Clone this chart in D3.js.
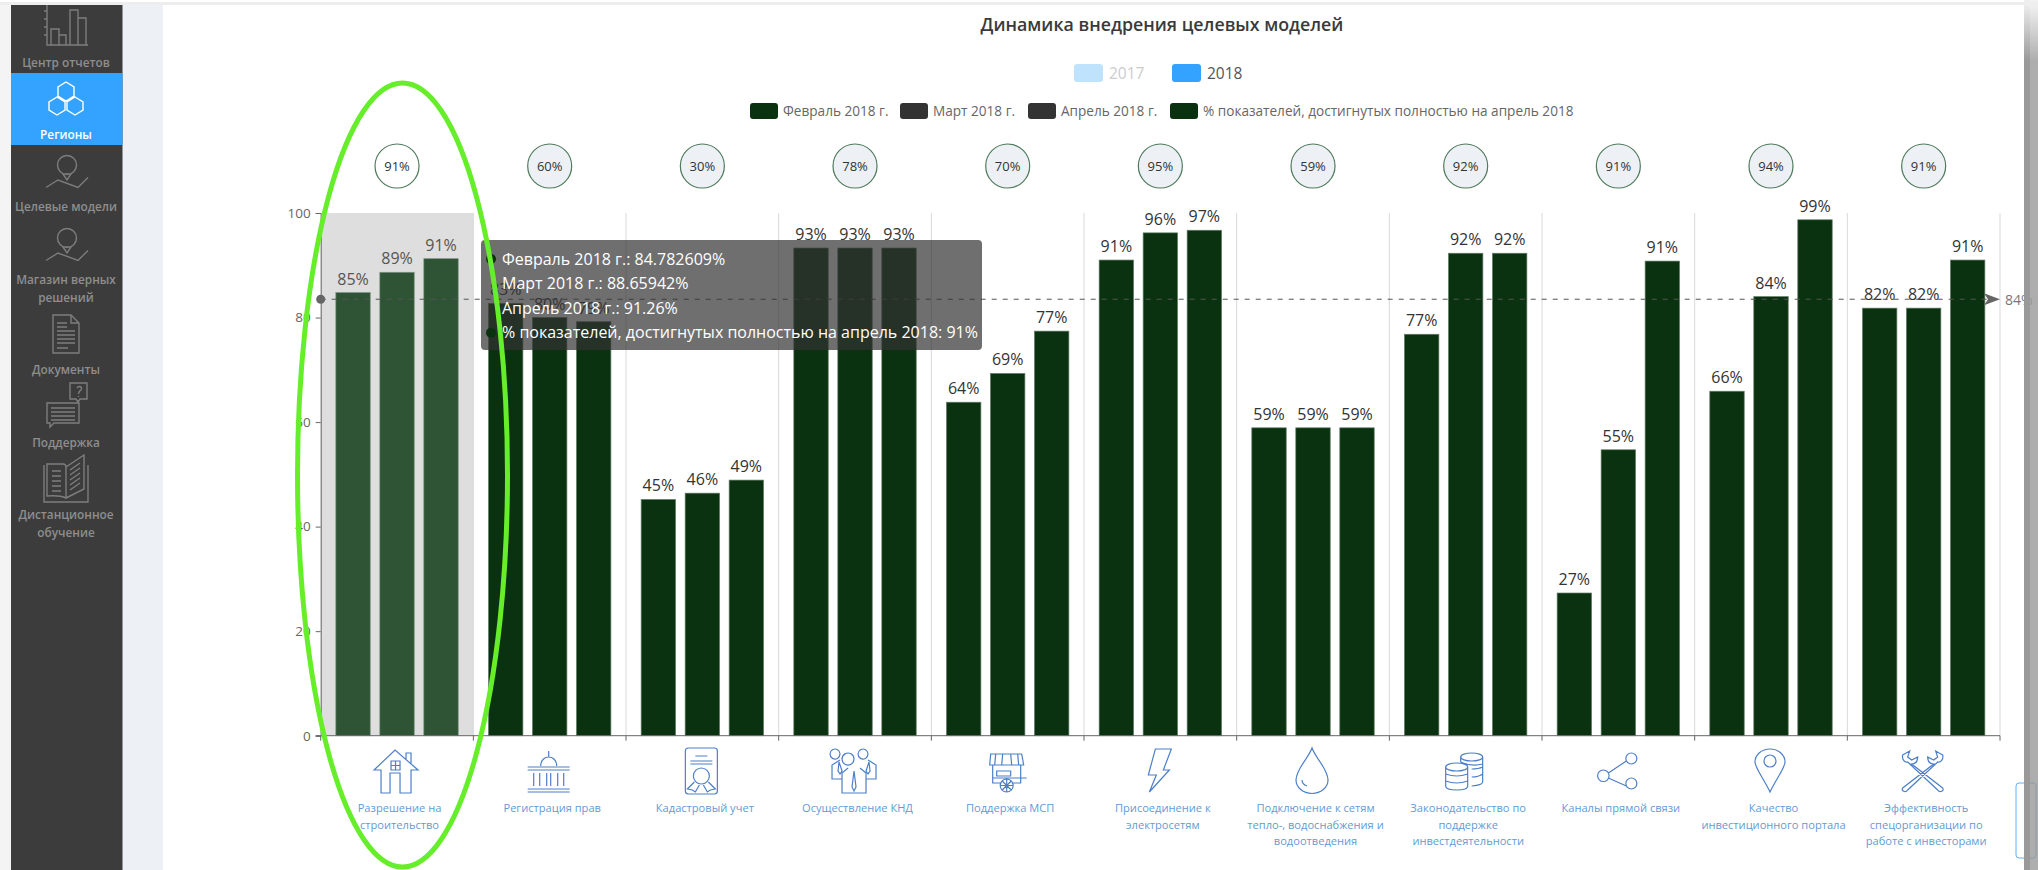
<!DOCTYPE html>
<html>
<head>
<meta charset="utf-8">
<script src="https://cdnjs.cloudflare.com/ajax/libs/d3/7.8.5/d3.min.js"></script>
<style>
  body { margin: 0; background: #fff; overflow: hidden; }
  svg { display: block; font-family: "Open Sans", sans-serif; }
</style>
</head>
<body>
<div id="chart"></div>
<script>
/* Динамика внедрения целевых моделей */

const categories = [
  ["Разрешение на", "строительство"],
  ["Регистрация прав"],
  ["Кадастровый учет"],
  ["Осуществление КНД"],
  ["Поддержка МСП"],
  ["Присоединение к", "электросетям"],
  ["Подключение к сетям", "тепло-, водоснабжения и", "водоотведения"],
  ["Законодательство по", "поддержке", "инвестдеятельности"],
  ["Каналы прямой связи"],
  ["Качество", "инвестиционного портала"],
  ["Эффективность", "спецорганизации по", "работе с инвесторами"]
];
const months = ["Февраль 2018 г.", "Март 2018 г.", "Апрель 2018 г."];
const feb = [84.78, 82.7, 45.2, 93.3, 63.8, 91, 58.9, 76.8, 27.3, 65.9, 81.8];
const mar = [88.66, 80, 46.4, 93.3, 69.3, 96.2, 58.9, 92.3, 54.7, 84, 81.8];
const apr = [91.26, 79.2, 48.9, 93.3, 77.4, 96.7, 58.9, 92.3, 90.8, 98.7, 91];
const achieved = [91, 60, 30, 78, 70, 95, 59, 92, 91, 94, 91];
const yTicks = [0, 20, 40, 60, 80, 100];
const markValue = 83.5;
const markLabel = "84%";
const yearLegend = ["2017", "2018"];
const seriesLegend = ["Февраль 2018 г.", "Март 2018 г.", "Апрель 2018 г.", "% показателей, достигнутых полностью на апрель 2018"];
const tooltipLines = ["Февраль 2018 г.: 84.782609%", "Март 2018 г.: 88.65942%", "Апрель 2018 г.: 91.26%", "% показателей, достигнутых полностью на апрель 2018: 91%"];
const navItems = [
  { lines: ["Центр отчетов"], y: [63] },
  { lines: ["Регионы"], y: [135], active: true },
  { lines: ["Целевые модели"], y: [207] },
  { lines: ["Магазин верных", "решений"], y: [280, 298] },
  { lines: ["Документы"], y: [370] },
  { lines: ["Поддержка"], y: [443] },
  { lines: ["Дистанционное", "обучение"], y: [515, 533] }
];

const width = 2038,
  height = 870,
  margin = ({ top: 213, right: 38, bottom: 134.3, left: 320.7 }),
  barColor = "#0b3210",
  barHighlight = "#2f5435",
  iconBlue = "#4c7fc9",
  navGrey = "#8e8e8e";

const svg = d3.select("#chart")
  .append("svg")
  .attr("width", width)
  .attr("height", height)
  .attr("viewBox", [0, 0, width, height]);

const fade = svg.append("defs").append("linearGradient")
  .attr("id", "barfade")
  .attr("x1", 0).attr("y1", 0).attr("x2", 0).attr("y2", 1);
fade.append("stop").attr("offset", "0.5%").attr("stop-color", "#eeeeee");
fade.append("stop").attr("offset", "7%").attr("stop-color", "#999999");

/* page shell */
svg.append("rect").attr("width", width).attr("height", height).attr("fill", "#fff");
svg.append("rect").attr("y", 2).attr("width", width).attr("height", 3).attr("fill", "#ededed");
svg.append("rect").attr("y", 5).attr("width", 11).attr("height", height).attr("fill", "#f4f4f4");
svg.append("rect").attr("x", 122).attr("y", 5).attr("width", 41).attr("height", height).attr("fill", "#edf1f5");
svg.append("rect").attr("x", 11).attr("y", 5).attr("width", 111.5).attr("height", height).attr("fill", "#3c3c3c");
svg.append("rect").attr("x", 11).attr("y", 73).attr("width", 111.5).attr("height", 72).attr("fill", "#33a3ff");

svg.append("g")
  .attr("text-anchor", "middle")
  .attr("font-size", 11.8)
  .attr("font-weight", 600)
  .selectAll("g")
  .data(navItems)
  .join("g")
  .attr("fill", d => d.active ? "#fff" : navGrey)
  .selectAll("text")
  .data(d => d.lines.map((l, i) => ({ l, y: d.y[i] })))
  .join("text")
  .attr("x", 66)
  .attr("y", d => d.y + 4)
  .text(d => d.l);

/* sidebar icons */
const pinIcon = "M-9.5 -7 A9.5 9.5 0 1 1 9.5 -7 A9.5 9.5 0 1 1 -9.5 -7 M-4 2 L0 8 L4 2 Z M-21 15.5 L-9 8 L11 15.5 L21 5.5";
const navIcons = [
  { x: 67, y: 25, d: "M-20 -20 V20 H21 M-23 -14 H-20 M-23 -6 H-20 M-23 2 H-20 M-23 10 H-20 M-16 20 V4 H-8 V20 M-8 20 V10 H-1 V20 M3 20 V-15 H11 V20 M11 20 V-7 H19 V20" },
  { x: 66, y: 99, d: "M0 -17 L8 -12 V-3 L0 2 L-8 -3 V-12 Z M-9 -2 L-1 3 V11 L-9 16 L-17 11 V3 Z M9 -2 L17 3 V11 L9 16 L1 11 V3 Z", stroke: "#fff" },
  { x: 67, y: 172, d: pinIcon },
  { x: 67, y: 245, d: pinIcon },
  { x: 66, y: 334, d: "M-13 -19 H5 L13 -11 V19 H-13 Z M5 -19 V-11 H13 M-9 -11 H1 M-9 -7 H1 M-9 -3 H9 M-9 1 H9 M-9 5 H9 M-9 9 H9 M-9 14 H2" },
  { x: 66, y: 405, d: "M4 -22 H21 V-6 H14 L12 -3 L10 -6 H4 Z M11 -17 C13 -20 17 -18 15 -15 C14 -14 12.5 -14 12.5 -11 M12.5 -9 V-8 M-19 -2 H13 V18 H-12 L-16 22 V18 H-19 Z M-15 3 H9 M-15 7 H9 M-15 11 H9 M-15 15 H9" },
  { x: 66, y: 479, d: "M-22 -14 V23 H22 V-14 M-19 -15 H-3 Q0 -15 0 -12 V19 Q-6 16 -19 17 Z M0 -12 L18 -24 V10 L0 19 M-14 -8 H-5 M-14 -3 H-5 M-14 2 H-5 M-14 7 H-5 M-14 12 H-5 M4 -9 L14 -16 M4 -4 L14 -11 M4 1 L14 -6 M4 6 L14 -1 M4 11 L14 4" }
];
svg.append("g")
  .selectAll("path")
  .data(navIcons)
  .join("path")
  .attr("transform", d => `translate(${d.x},${d.y})`)
  .attr("d", d => d.d)
  .attr("fill", "none")
  .attr("stroke", d => d.stroke || "#7d7d7d")
  .attr("stroke-width", 1.4);

/* scales */
const x0 = d3.scaleBand()
  .domain(d3.range(categories.length))
  .range([margin.left, width - margin.right]);

const x1 = d3.scaleBand()
  .domain(months)
  .range([0, x0.bandwidth()])
  .paddingInner(0.218)
  .paddingOuter(0.344);

const y = d3.scaleLinear()
  .domain([0, 100])
  .range([height - margin.bottom, margin.top]);

/* highlighted band and separators */
svg.append("rect")
  .attr("x", x0(0))
  .attr("y", y(100))
  .attr("width", x0.bandwidth())
  .attr("height", y(0) - y(100))
  .attr("fill", "#dedede");

svg.append("g")
  .selectAll("line")
  .data(d3.range(1, categories.length + 1))
  .join("line")
  .attr("x1", d => margin.left + d * x0.step())
  .attr("x2", d => margin.left + d * x0.step())
  .attr("y1", y(100))
  .attr("y2", y(0))
  .attr("stroke", "#d9d9d9");

/* bars */
const rows = categories.map((c, i) => [feb[i], mar[i], apr[i]]);

const groups = svg.append("g")
  .selectAll("g")
  .data(rows)
  .join("g")
  .attr("transform", (d, i) => `translate(${x0(i)},0)`);

groups.each(function (row, i) {
  const g = d3.select(this);
  g.selectAll("rect")
    .data(row)
    .join("rect")
    .attr("x", (d, j) => x1(months[j]))
    .attr("y", d => y(d))
    .attr("width", x1.bandwidth())
    .attr("height", d => y(0) - y(d))
    .attr("fill", i === 0 ? barHighlight : barColor)
    .attr("stroke", i === 0 ? "#7d9382" : "#5f7d64")
    .attr("stroke-width", 0.7);
});

/* mark line */
const mark = svg.append("g");
mark.append("line")
  .attr("x1", margin.left)
  .attr("x2", width - margin.right - 10)
  .attr("y1", y(markValue))
  .attr("y2", y(markValue))
  .attr("stroke", "#555")
  .attr("stroke-width", 1)
  .attr("stroke-dasharray", "5,6");
mark.append("circle")
  .attr("cx", margin.left)
  .attr("cy", y(markValue))
  .attr("r", 4.5)
  .attr("fill", "#666");
mark.append("path")
  .attr("d", d3.line()([[width - margin.right - 16, y(markValue) - 6], [width - margin.right, y(markValue)], [width - margin.right - 16, y(markValue) + 6], [width - margin.right - 12, y(markValue)]]))
  .attr("fill", "#666");
mark.append("text")
  .attr("x", width - margin.right + 5)
  .attr("y", y(markValue) + 6)
  .attr("font-size", 14)
  .attr("fill", "#777")
  .text(markLabel);

/* value labels */
groups.each(function (row, i) {
  d3.select(this).selectAll("text")
    .data(row)
    .join("text")
    .attr("x", (d, j) => x1(months[j]) + x1.bandwidth() / 2)
    .attr("y", d => y(d) - 8)
    .attr("text-anchor", "middle")
    .attr("font-size", 16)
    .attr("fill", i === 0 ? "#555" : "#333")
    .text(d => Math.round(d) + "%");
});

/* axes */
const yAxis = svg.append("g")
  .attr("transform", `translate(${margin.left},0)`)
  .call(d3.axisLeft(y).tickValues(yTicks).tickSize(5).tickPadding(5));
yAxis.selectAll("path, line").attr("stroke", "#666");
yAxis.selectAll("text").attr("font-size", 13.5).attr("fill", "#666").attr("font-family", "Open Sans");

const tickX = d3.range(0, categories.length + 1).map(d => margin.left + d * x0.step());
const xAxis = svg.append("g");
xAxis.append("line")
  .attr("x1", margin.left - 5)
  .attr("x2", width - margin.right)
  .attr("y1", y(0))
  .attr("y2", y(0))
  .attr("stroke", "#666");
xAxis.selectAll("line.tick")
  .data(tickX)
  .join("line")
  .attr("class", "tick")
  .attr("x1", d => d)
  .attr("x2", d => d)
  .attr("y1", y(0))
  .attr("y2", y(0) + 5)
  .attr("stroke", "#666");

/* achieved circles */
const badges = svg.append("g")
  .selectAll("g")
  .data(achieved)
  .join("g")
  .attr("transform", (d, i) => `translate(${x0(i) + x0.bandwidth() / 2},166)`);
badges.append("circle")
  .attr("r", 22)
  .attr("fill", (d, i) => i === 0 ? "#fff" : "#edf1f5")
  .attr("stroke", "#4f7a5c")
  .attr("stroke-width", 1.2);
badges.append("text")
  .attr("y", 4.5)
  .attr("text-anchor", "middle")
  .attr("font-size", 13)
  .attr("fill", "#333")
  .text(d => d + "%");

/* category icons */
const catIcons = [
  "M-22 -1 L-1 -21 L22 -1 H15 V22 H4 V2 H-6 V22 H-15 V-1 Z M10 -12 V-18 H15 V-7 M-5 -10 H4 V-1 H-5 Z M-0.5 -10 V-1 M-5 -5.5 H4",
  "M-21 -4 H21 M-21 -1 H21 M-21 21 H21 M-21 18 H21 M0 -20 V-14 M-8 -5 C-8 -17 8 -17 8 -5 M-15 2 V15 M-9 2 V15 M-2 2 V15 M2 2 V15 M9 2 V15 M15 2 V15",
  "M-13 -23 H13 Q16 -23 16 -20 V20 Q16 23 13 23 H-13 Q-16 23 -16 20 V-20 Q-16 -23 -13 -23 Z M-6 -15 H6 M-11 -10 H11 M-11 -7 H11 M-8 5 A8 8 0 1 0 8 5 A8 8 0 1 0 -8 5 M-7 11 L-14 18 L-9 19 L-6 21 L-2 14 M7 11 L14 18 L9 19 L6 21 L2 14",
  "M-14 -17 A5 5 0 1 0 -14 -16.9 M14 -17 A5 5 0 1 0 14 -16.9 M0 -12 A6 6 0 1 0 0 -11.9 M-14 -11 L-22 -6 V8 H-12 V22 H12 V8 H22 V-6 L14 -11 M-6 -3 L-12 2 V8 M6 -3 L12 2 V8 M0 0 L-2 16 L0 20 L2 16 Z M-15 -9 L-16 0 L-14 3 L-12 0 Z M15 -9 L16 0 L14 3 L12 0 Z",
  "M-16 -17 H15 L17 -6 H-17 Z M-11 -17 L-12 -6 M-4 -17 L-5 -6 M4 -17 L5 -6 M11 -17 L12 -6 M-14 -6 V12 H-5 M5 12 H14 V-6 M-10 0 H4 V5 H-10 Z M-14 7 H17 M14 7 H20 M0 8 A6.5 6.5 0 1 0 0 21 A6.5 6.5 0 1 0 0 8 M0 8 V21 M-6.5 14.5 H6.5 M-4.5 10 L4.5 19 M4.5 10 L-4.5 19",
  "M-4 -22 H12 L4 -1 H10 L-10 21 L-3 4 H-11 Z",
  "M0 -23 C4 -12 16 -2 16 9 A16 13.5 0 0 1 -16 9 C-16 -2 -4 -12 0 -23 Z M-10 9 C-10 12 -8 14 -5 15",
  "M-4 -14 A11 4 0 1 0 18 -14 A11 4 0 1 0 -4 -14 M-4 -14 V-9 M18 -14 V11 Q18 14 7 15 M-4 -9 Q7 -4 18 -7 M7 -2 Q14 -2 18 -4 M7 6 Q14 6 18 3 M-19 -4 A11 4 0 1 0 3 -4 A11 4 0 1 0 -19 -4 M-19 -4 V15 Q-19 19 -8 19 Q3 19 3 15 V-4 M-19 3 Q-8 7 3 3 M-19 10 Q-8 14 3 10",
  "M-14 -1 A5.5 5.5 0 1 0 -14 10.5 A5.5 5.5 0 1 0 -14 -1 M14 -18 A5.5 5.5 0 1 0 14 -7 A5.5 5.5 0 1 0 14 -18 M14 7 A5.5 5.5 0 1 0 14 18 A5.5 5.5 0 1 0 14 7 M-9 2 L9 -10 M-9 7 L9 15",
  "M0 21 C-6 8 -15 -3 -15 -9 A15 13 0 0 1 15 -9 C15 -3 6 8 0 21 Z M-6 -10 A6 6 0 1 0 6 -10 A6 6 0 1 0 -6 -10",
  "M-20 -16 L-13 -20 L-15 -14 L-11 -11 L-5 -14 C-5 -9 -8 -7 -11 -7 L20 17 C22 20 17 22 15 19 L-15 -9 C-18 -8 -21 -12 -20 -16 Z M20 -16 L13 -20 L15 -14 L11 -11 L5 -14 C5 -9 8 -7 11 -7 L-20 17 C-22 20 -17 22 -15 19 L15 -9 C18 -8 21 -12 20 -16 Z"
];
svg.append("g")
  .selectAll("path")
  .data(catIcons)
  .join("path")
  .attr("transform", (d, i) => `translate(${x0(i) + x0.bandwidth() / 2 - 1},771)`)
  .attr("d", d => d)
  .attr("fill", "none")
  .attr("stroke", iconBlue)
  .attr("stroke-width", 1.2);

/* category labels */
svg.append("g")
  .attr("text-anchor", "middle")
  .attr("font-size", 11.1)
  .attr("fill", "#5f9bd6")
  .selectAll("g")
  .data(categories)
  .join("g")
  .each(function (lines, i) {
    d3.select(this).selectAll("text")
      .data(lines)
      .join("text")
      .attr("x", x0(i) + x0.bandwidth() / 2 + 2.5)
      .attr("y", (d, j) => 812 + j * 16.5)
      .text(d => d);
  });

/* title and legends */
svg.append("text")
  .attr("x", 1162)
  .attr("y", 31)
  .attr("text-anchor", "middle")
  .attr("font-size", 17.8)
  .attr("font-weight", 600)
  .attr("fill", "#3a3a3a")
  .text("Динамика внедрения целевых моделей");

const yearX = [1074, 1172];
const yearG = svg.append("g")
  .selectAll("g")
  .data(yearLegend)
  .join("g")
  .attr("transform", (d, i) => `translate(${yearX[i]},64)`);
yearG.append("rect")
  .attr("width", 29)
  .attr("height", 18)
  .attr("rx", 3)
  .attr("fill", (d, i) => i === 0 ? "#c0e3fd" : "#33a3ff");
yearG.append("text")
  .attr("x", 35)
  .attr("y", 14.5)
  .attr("font-size", 15.5)
  .attr("fill", (d, i) => i === 0 ? "#ccc" : "#555")
  .text(d => d);

const seriesX = [750, 900, 1028, 1170];
const seriesFill = ["#0b3210", "#333", "#333", "#0b3210"];
const seriesG = svg.append("g")
  .selectAll("g")
  .data(seriesLegend)
  .join("g")
  .attr("transform", (d, i) => `translate(${seriesX[i]},103)`);
seriesG.append("rect")
  .attr("width", 28)
  .attr("height", 16)
  .attr("rx", 3)
  .attr("fill", (d, i) => seriesFill[i]);
seriesG.append("text")
  .attr("x", 33)
  .attr("y", 13)
  .attr("font-size", 13.6)
  .attr("fill", "#666")
  .text(d => d);

/* tooltip: the two grey series markers do not show in the picture */
const tipDots = [barColor, "none", "none", barColor];
const tip = svg.append("g");
tip.append("rect")
  .attr("x", 481)
  .attr("y", 240)
  .attr("width", 501)
  .attr("height", 110)
  .attr("rx", 4)
  .attr("fill", "#323232")
  .attr("fill-opacity", 0.7);
const tipRows = tip.selectAll("g")
  .data(tooltipLines)
  .join("g")
  .attr("transform", (d, i) => `translate(491,${259 + i * 24.6})`);
tipRows.append("circle")
  .attr("r", 5)
  .attr("fill", (d, i) => tipDots[i]);
tipRows.append("text")
  .attr("x", 11)
  .attr("y", 5.5)
  .attr("font-size", 16)
  .attr("fill", "#fff")
  .text(d => d);

/* hand-drawn annotation */
svg.append("ellipse")
  .attr("cx", 402.5)
  .attr("cy", 475)
  .attr("rx", 105)
  .attr("ry", 392)
  .attr("fill", "none")
  .attr("stroke", "#66ee2a")
  .attr("stroke-width", 5);

/* widget edge and scrollbar */
svg.append("rect")
  .attr("x", 2016)
  .attr("y", 783)
  .attr("width", 20)
  .attr("height", 75)
  .attr("rx", 3)
  .attr("fill", "#fff")
  .attr("stroke", "#5fb0f5");
svg.append("rect").attr("x", 2024).attr("y", 0).attr("width", 6).attr("height", height).attr("fill", "url(#barfade)");
svg.append("rect").attr("x", 2030).attr("y", 0).attr("width", 8).attr("height", height).attr("fill", "url(#barfade)").attr("opacity", 0.8);
</script>
</body>
</html>
